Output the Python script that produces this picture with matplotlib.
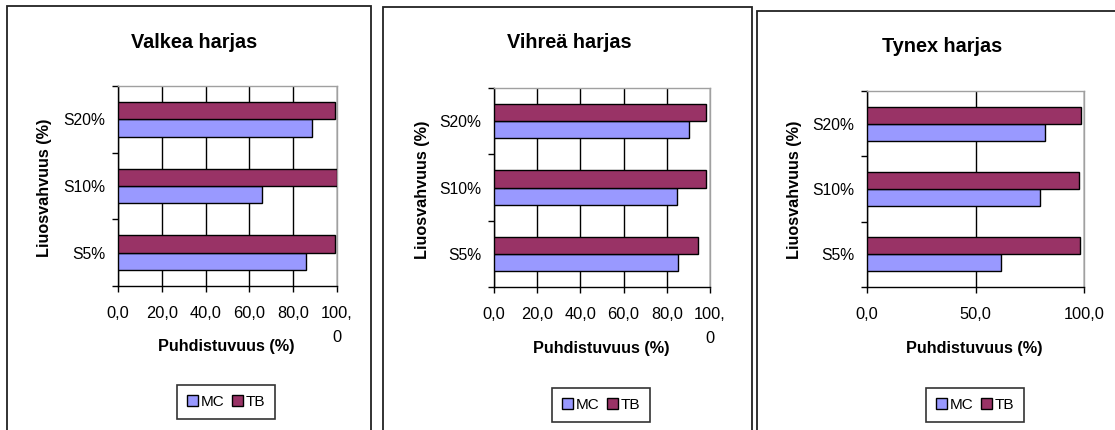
import matplotlib
matplotlib.use("Agg")
import matplotlib.pyplot as plt
from matplotlib.patches import Rectangle, Patch

plt.rcParams['font.family'] = ['Liberation Sans', 'DejaVu Sans']

W, H = 1115, 430

categories = ["S5%", "S10%", "S20%"]
titles = ["Valkea harjas", "Vihreä harjas", "Tynex harjas"]
series_names = ["MC", "TB"]
mc_values = [
    [85.8, 65.9, 88.7],
    [85.2, 84.5, 90.5],
    [61.9, 79.9, 81.9],
]
tb_values = [
    [99.1, 99.8, 99.1],
    [94.6, 98.0, 98.0],
    [98.2, 97.6, 98.8],
]
xticks_sets = [
    [0, 20, 40, 60, 80, 100],
    [0, 20, 40, 60, 80, 100],
    [0, 50, 100],
]
xticklabel_sets = [
    ["0,0", "20,0", "40,0", "60,0", "80,0", "100,\n0"],
    ["0,0", "20,0", "40,0", "60,0", "80,0", "100,\n0"],
    ["0,0", "50,0", "100,0"],
]
xlabel = "Puhdistuvuus (%)"
ylabel = "Liuosvahvuus (%)"

MC_COLOR = "#9999FF"
TB_COLOR = "#993366"

fig = plt.figure(figsize=(W / 100, H / 100), dpi=100)
fig.patch.set_facecolor("white")

def fx(x):
    return x / W

def fy(y):
    return 1 - y / H

# panel frames (pixel: left, top, right, bottom)
frames = [(7, 6, 371, 440), (383, 7, 752, 440), (757, 11, 1125, 440)]
for l, t, r, b in frames:
    fig.add_artist(Rectangle((fx(l), fy(b)), fx(r - l), (b - t) / H,
                             transform=fig.transFigure, fill=False,
                             edgecolor="#222222", linewidth=1.3, clip_on=False))

axes_px = [(118, 86, 337, 286), (494, 88, 710, 287), (867, 91, 1084, 287)]
title_pos = [(194, 42), (569, 43), (942, 47)]
xlabel_pos = [(226, 347), (601, 348), (974, 349)]
ylabel_pos = [(45, 188), (422, 190), (795, 190)]
legend_pos = [(226, 402), (601, 405), (975, 405)]

bh = 0.26
for i in range(3):
    l, t, r, b = axes_px[i]
    ax = fig.add_axes([fx(l), fy(b), (r - l) / W, (b - t) / H])
    ypos = list(range(len(categories)))
    ax.barh([y - bh / 2 for y in ypos], mc_values[i], height=bh,
            color=MC_COLOR, edgecolor="black", linewidth=1, zorder=3)
    ax.barh([y + bh / 2 for y in ypos], tb_values[i], height=bh,
            color=TB_COLOR, edgecolor="black", linewidth=1, zorder=3)
    ax.set_xlim(0, 100)
    ax.set_ylim(-0.5, len(categories) - 0.5)
    ax.set_xticks(xticks_sets[i])
    ax.set_xticklabels(xticklabel_sets[i], fontsize=11.8, linespacing=1.7)
    ax.set_yticks([-0.5, 0.5, 1.5, 2.5])
    ax.set_yticklabels([])
    ax.set_yticks(ypos, minor=True)
    ax.set_yticklabels(categories, minor=True, fontsize=11.3)
    ax.tick_params(axis="y", which="minor", length=0, pad=9)
    ax.tick_params(axis="y", which="major", length=4, width=1, direction="out")
    ax.tick_params(axis="x", length=4, width=1, direction="out", pad=10.5)
    for lab in ax.get_xticklabels():
        lab.set_verticalalignment("top")
    ax.grid(axis="x", color="black", linewidth=1, zorder=1)
    ax.set_axisbelow(True)
    ax.spines["left"].set_color("black")
    ax.spines["bottom"].set_color("black")
    ax.spines["top"].set_color("#a0a0a0")
    ax.spines["right"].set_color("#a0a0a0")
    for s in ax.spines.values():
        s.set_linewidth(1)

    tx, ty = title_pos[i]
    fig.text(fx(tx), fy(ty), titles[i], ha="center", va="center",
             fontsize=14.3, fontweight="bold")
    lx, ly = xlabel_pos[i]
    fig.text(fx(lx), fy(ly), xlabel, ha="center", va="center",
             fontsize=11.7, fontweight="bold")
    yx, yy = ylabel_pos[i]
    fig.text(fx(yx), fy(yy), ylabel, ha="center", va="center",
             fontsize=11.7, fontweight="bold", rotation=90)

    handles = [Patch(facecolor=MC_COLOR, edgecolor="black", linewidth=1),
               Patch(facecolor=TB_COLOR, edgecolor="black", linewidth=1)]
    gx, gy = legend_pos[i]
    leg = fig.legend(handles, series_names, loc="center",
                     bbox_to_anchor=(fx(gx), fy(gy)), ncol=2, fontsize=11,
                     frameon=True, fancybox=False, edgecolor="black",
                     handlelength=0.7, handleheight=0.7, handletextpad=0.2,
                     columnspacing=0.5, borderpad=0.65, borderaxespad=0)
    leg.get_frame().set_linewidth(1.2)

fig.savefig("out.png", dpi=100, facecolor="white")
